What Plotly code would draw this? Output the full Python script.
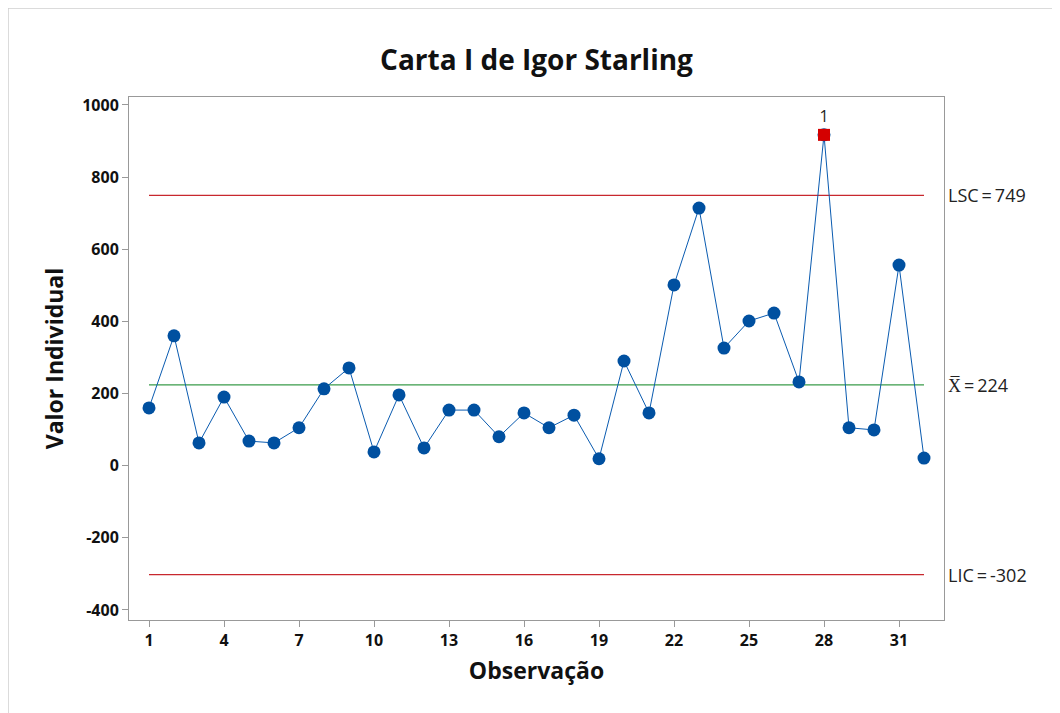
import plotly.graph_objects as go

obs = list(range(1, 33))
values = [160, 360, 63, 190, 68, 63, 105, 213, 271, 38, 196, 49, 154, 154, 80, 146,
          105, 140, 19, 290, 146, 501, 714, 326, 401, 423, 232, 917, 105, 99, 556, 21]
lsc, mean, lic = 749, 224, -302
out_idx = [28]
x_ticks = [1, 4, 7, 10, 13, 16, 19, 22, 25, 28, 31]
y_ticks = [-400, -200, 0, 200, 400, 600, 800, 1000]
y_ticklabels = [str(v) for v in y_ticks]

FONT = "Open Sans"
W, H = 1052, 705
L, R, T, B = 121, 116, 89, 93
fig = go.Figure()

# control lines
for val, col, w in [(lsc, "#C8282E", 1.2), (lic, "#C8282E", 1.2), (mean, "#3A9B4A", 1.2)]:
    fig.add_trace(go.Scatter(x=[obs[0], obs[-1]], y=[val, val], mode="lines",
                             line=dict(color=col, width=w), hoverinfo="skip"))

# data
fig.add_trace(go.Scatter(x=obs, y=values, mode="lines+markers",
                         line=dict(color="#0A5BB0", width=1),
                         marker=dict(color="#0050A0", size=13, symbol="circle")))
ox = [obs[i - 1] for i in out_idx]
oy = [values[i - 1] for i in out_idx]
fig.add_trace(go.Scatter(x=ox, y=oy, mode="markers+text",
                         marker=dict(color="#D40000", size=12, symbol="square"),
                         text=["1"] * len(ox), textposition="top center",
                         textfont=dict(family=FONT, size=16, color="#222")))

ann = []
for val, label in [(lsc, "LSC\u2009=\u2009749"), (mean, "X\u0305\u2009=\u2009224"),
                   (lic, "LIC\u2009=\u2009-302")]:
    ann.append(dict(x=1.0, xref="paper", y=val, yref="y", xanchor="left",
                    xshift=2, text=label, showarrow=False,
                    font=dict(family=FONT, size=18, color="#222")))

pw = W - L - R
ph = H - T - B
fig.update_layout(
    width=W, height=H,
    margin=dict(l=L, r=R, t=T, b=B),
    paper_bgcolor="white", plot_bgcolor="white",
    showlegend=False,
    title=dict(text="<b>Carta I de Igor Starling</b>", x=0.5, xref="paper",
               y=1 - 52 / H, yanchor="middle",
               font=dict(family=FONT, size=28, color="#111")),
    annotations=ann,
    shapes=[dict(type="rect", xref="paper", yref="paper",
                 x0=-L / pw, x1=1 + (R + 20) / pw, y0=-(B + 20) / ph, y1=1 + T / ph,
                 line=dict(color="#D0D0D0", width=1.5), layer="below")],
)
fig.update_xaxes(range=[0.2, 32.8], tickvals=x_ticks, ticks="outside", ticklen=6,
                 tickcolor="#999", showline=True, linecolor="#999", mirror=True,
                 showgrid=False, zeroline=False,
                 tickfont=dict(family=FONT, size=16, color="#111", weight="bold"),
                 title=dict(text="<b>Observação</b>", standoff=12,
                            font=dict(family=FONT, size=23, color="#111")))
fig.update_yaxes(range=[-428, 1022], tickvals=y_ticks, ticktext=y_ticklabels,
                 ticks="outside", ticklen=6,
                 tickcolor="#999", showline=True, linecolor="#999", mirror=True,
                 showgrid=False, zeroline=False,
                 tickfont=dict(family=FONT, size=16, color="#111", weight="bold"),
                 title=dict(text="<b>Valor Individual</b>", standoff=12,
                            font=dict(family=FONT, size=23, color="#111")))

fig.write_html("out.html")
